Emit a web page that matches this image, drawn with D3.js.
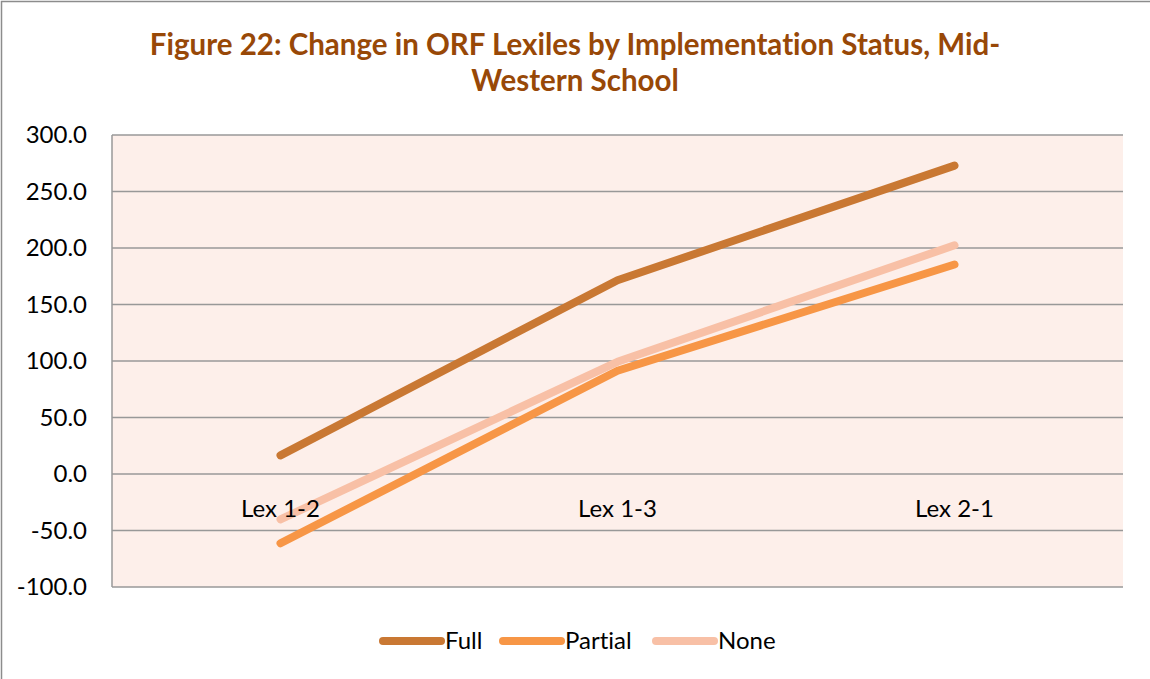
<!DOCTYPE html>
<html>
<head>
<meta charset="utf-8">
<script src="https://cdn.jsdelivr.net/npm/d3@7"></script>
<style>
  body { margin: 0; background: #fff; }
  text { font-family: Lato, "Open Sans", sans-serif; font-variant-ligatures: none; }
</style>
</head>
<body>
<div class="chart"></div>
<script>
const categories = ["Lex 1-2", "Lex 1-3", "Lex 2-1"]
const seriesNames = ["Full", "Partial", "None"]
const fullValues = [16.5, 171.5, 272.9]
const partialValues = [-61.3, 91.4, 185.4]
const noneValues = [-40.2, 99.3, 202.4]
const yTicks = [-100, -50, 0, 50, 100, 150, 200, 250, 300]
const colors = ["#C97833", "#F79646", "#F8C0A6"]

const series = [fullValues, partialValues, noneValues].map(function (vals, i) {
  return { name: seriesNames[i], color: colors[i], values: vals }
})

const W = 1150, H = 679
const margin = {top: 135, right: 27, bottom: 92, left: 112}
const width = W - margin.left - margin.right
const height = H - margin.top - margin.bottom

const svg = d3.select(".chart").append("svg")
  .attr("width", W)
  .attr("height", H)

// outer chart border (only left/top visible)
svg.append("rect")
  .attr("x", 1.5).attr("y", 1.5)
  .attr("width", W + 20).attr("height", H + 20)
  .attr("fill", "#fff")
  .attr("stroke", "#8c8c8c")
  .attr("stroke-width", 1.5)

svg.append("text")
  .attr("x", 575).attr("y", 55)
  .attr("text-anchor", "middle")
  .attr("fill", "#984807")
  .style("font-size", "29.5px").style("font-weight", "bold")
  .text("Figure 22: Change in ORF Lexiles by Implementation Status, Mid-")
svg.append("text")
  .attr("x", 575).attr("y", 91)
  .attr("text-anchor", "middle")
  .attr("fill", "#984807")
  .style("font-size", "29.5px").style("font-weight", "bold")
  .text("Western School")

const g = svg.append("g")
  .attr("transform", "translate(" + margin.left + "," + margin.top + ")")

const x = d3.scaleBand().domain(categories).range([0, width])
const y = d3.scaleLinear().domain([-100, 300]).range([height, 0])

g.append("rect")
  .attr("width", width).attr("height", height)
  .attr("fill", "#FDEFEA")

// gridlines
g.selectAll(".grid")
  .data(yTicks)
  .enter().append("line")
  .attr("x1", 0).attr("x2", width)
  .attr("y1", function (d) { return y(d) }).attr("y2", function (d) { return y(d) })
  .attr("stroke", "#989898").attr("stroke-width", 1.5)

g.append("line")
  .attr("x1", 0).attr("x2", 0).attr("y1", 0).attr("y2", height)
  .attr("stroke", "#989898").attr("stroke-width", 1.5)

const yAxis = d3.axisLeft(y).tickValues(yTicks).tickSize(0).tickPadding(25)
  .tickFormat(function (d) { return d.toFixed(1) })
g.append("g")
  .call(yAxis)
  .call(function (a) { a.select(".domain").remove() })
  .selectAll("text")
  .style("font-size", "24px")
  .style("font-family", "Lato, 'Open Sans', sans-serif")
  .attr("fill", "#000")

const line = d3.line()
  .x(function (d, i) { return x(categories[i]) + x.bandwidth() / 2 })
  .y(function (d) { return y(d) })

g.selectAll(".series")
  .data(series)
  .enter().append("path")
  .attr("d", function (d) { return line(d.values) })
  .attr("fill", "none")
  .attr("stroke", function (d) { return d.color })
  .attr("stroke-width", 8)
  .attr("stroke-linecap", "round")
  .attr("stroke-linejoin", "round")

// category labels just below the zero line, drawn over the lines
g.selectAll(".cat")
  .data(categories)
  .enter().append("text")
  .attr("x", function (d) { return x(d) + x.bandwidth() / 2 })
  .attr("y", y(0) + 43)
  .attr("text-anchor", "middle")
  .style("font-size", "24px")
  .text(function (d) { return d })

// legend
const legendX = [383, 503, 656]
const lg = svg.append("g")
series.forEach(function (s, i) {
  lg.append("line")
    .attr("x1", legendX[i]).attr("x2", legendX[i] + 58)
    .attr("y1", 641).attr("y2", 641)
    .attr("stroke", s.color).attr("stroke-width", 8)
    .attr("stroke-linecap", "round")
  lg.append("text")
    .attr("x", legendX[i] + 62).attr("y", 649)
    .style("font-size", "24px")
    .text(s.name)
})
</script>
</body>
</html>
